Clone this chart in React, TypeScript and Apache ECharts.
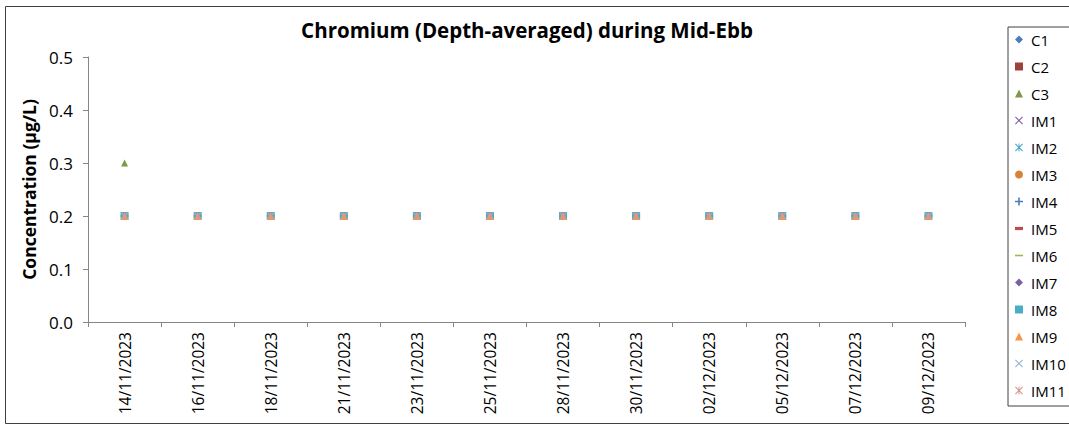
import React, { useEffect, useRef } from "react";
import * as echarts from "echarts";

const categories = [
  "14/11/2023", "16/11/2023", "18/11/2023", "21/11/2023", "23/11/2023", "25/11/2023",
  "28/11/2023", "30/11/2023", "02/12/2023", "05/12/2023", "07/12/2023", "09/12/2023",
];

const seriesNames = ["C1", "C2", "C3", "IM1", "IM2", "IM3", "IM4", "IM5", "IM6", "IM7", "IM8", "IM9", "IM10", "IM11"];

const C1 = [0.2, 0.2, 0.2, 0.2, 0.2, 0.2, 0.2, 0.2, 0.2, 0.2, 0.2, 0.2];
const C2 = [0.2, 0.2, 0.2, 0.2, 0.2, 0.2, 0.2, 0.2, 0.2, 0.2, 0.2, 0.2];
const C3 = [0.3, 0.2, 0.2, 0.2, 0.2, 0.2, 0.2, 0.2, 0.2, 0.2, 0.2, 0.2];
const IM1 = [0.2, 0.2, 0.2, 0.2, 0.2, 0.2, 0.2, 0.2, 0.2, 0.2, 0.2, 0.2];
const IM2 = [0.2, 0.2, 0.2, 0.2, 0.2, 0.2, 0.2, 0.2, 0.2, 0.2, 0.2, 0.2];
const IM3 = [0.2, 0.2, 0.2, 0.2, 0.2, 0.2, 0.2, 0.2, 0.2, 0.2, 0.2, 0.2];
const IM4 = [0.2, 0.2, 0.2, 0.2, 0.2, 0.2, 0.2, 0.2, 0.2, 0.2, 0.2, 0.2];
const IM5 = [0.2, 0.2, 0.2, 0.2, 0.2, 0.2, 0.2, 0.2, 0.2, 0.2, 0.2, 0.2];
const IM6 = [0.2, 0.2, 0.2, 0.2, 0.2, 0.2, 0.2, 0.2, 0.2, 0.2, 0.2, 0.2];
const IM7 = [0.2, 0.2, 0.2, 0.2, 0.2, 0.2, 0.2, 0.2, 0.2, 0.2, 0.2, 0.2];
const IM8 = [0.2, 0.2, 0.2, 0.2, 0.2, 0.2, 0.2, 0.2, 0.2, 0.2, 0.2, 0.2];
const IM9 = [0.2, 0.2, 0.2, 0.2, 0.2, 0.2, 0.2, 0.2, 0.2, 0.2, 0.2, 0.2];
const IM10 = [0.2, 0.2, 0.2, 0.2, 0.2, 0.2, 0.2, 0.2, 0.2, 0.2, 0.2, 0.2];
const IM11 = [0.2, 0.2, 0.2, 0.2, 0.2, 0.2, 0.2, 0.2, 0.2, 0.2, 0.2, 0.2];

const seriesValues = [C1, C2, C3, IM1, IM2, IM3, IM4, IM5, IM6, IM7, IM8, IM9, IM10, IM11];

const yTicks = [0, 0.1, 0.2, 0.3, 0.4, 0.5];

const PLUS = "path://M4,0H6V4H10V6H6V10H4V6H0V4H4Z";
const XMARK = "path://M1,0L5,4L9,0L10,1L6,5L10,9L9,10L5,6L1,10L0,9L4,5L0,1Z";
const STAR =
  "path://M1,0L5,4L9,0L10,1L6,5L10,9L9,10L5,6L1,10L0,9L4,5L0,1Z M4.4,0H5.6V10H4.4Z";
const SHORTDASH = "path://M0,0H10V4H0Z";
const LONGDASH = "path://M0,0H10V2H0Z";

const styles = [
  { color: "#4A7EBB", symbol: "diamond", size: [6, 7] },
  { color: "#A0403D", symbol: "rect", size: 7 },
  { color: "#7E9A48", symbol: "triangle", size: 7 },
  { color: "#7D60A0", symbol: XMARK, size: 7 },
  { color: "#46AAC5", symbol: STAR, size: 7 },
  { color: "#DA8138", symbol: "circle", size: 7 },
  { color: "#4A7EBB", symbol: PLUS, size: 7 },
  { color: "#BE4B48", symbol: SHORTDASH, size: [5, 3] },
  { color: "#98B954", symbol: LONGDASH, size: [8, 2] },
  { color: "#7D60A0", symbol: "diamond", size: [7, 8] },
  { color: "#4BACC6", symbol: "rect", size: 8 },
  { color: "#F79646", symbol: "triangle", size: 8 },
  { color: "#95B3D7", symbol: XMARK, size: 7 },
  { color: "#D99694", symbol: STAR, size: 7 },
];

const FONT = "Open Sans";

export default function App() {
  const ref = useRef<HTMLDivElement>(null);
  useEffect(() => {
    if (!ref.current) return;
    const chart = echarts.init(ref.current, undefined, { renderer: "svg" });
    const option: any = {
      animation: false,
      backgroundColor: "#ffffff",
      textStyle: { fontFamily: FONT },
      title: {
        text: "Chromium (Depth-averaged) during Mid-Ebb",
        left: 522,
        textAlign: "center",
        top: 14,
        textStyle: { fontFamily: FONT, fontSize: 20.5, fontWeight: "bold", color: "#000" },
      },
      graphic: [
        {
          type: "rect",
          shape: { x: 5.5, y: 6.5, width: 1100, height: 417 },
          style: { fill: "none", stroke: "#404040", lineWidth: 1 },
          silent: true,
          z: -1,
        },
      ],
      legend: {
        orient: "vertical",
        left: 1008,
        top: 27,
        padding: [5, 20, 8, 7],
        itemWidth: 8,
        itemHeight: 8,
        itemGap: 12,
        borderColor: "#404040",
        borderWidth: 1,
        textStyle: { fontFamily: FONT, fontSize: 15, color: "#000", lineHeight: 14, padding: [0, 0, 0, 3] },
        data: seriesNames,
      },
      grid: { left: 88, right: 104, top: 57, bottom: 103, containLabel: false },
      xAxis: {
        type: "category",
        data: categories,
        boundaryGap: true,
        axisLine: { lineStyle: { color: "#868686" } },
        axisTick: { show: true, length: 5, lineStyle: { color: "#868686" } },
        axisLabel: { rotate: 90, fontFamily: FONT, fontSize: 15.5, color: "#000", margin: 10, interval: 0 },
        splitLine: { show: false },
      },
      yAxis: {
        type: "value",
        min: 0,
        max: 0.5,
        interval: 0.1,
        name: "Concentration (µg/L)",
        nameLocation: "middle",
        nameGap: 46,
        nameRotate: 90,
        nameTextStyle: { fontFamily: FONT, fontSize: 17.5, fontWeight: "bold", color: "#000" },
        axisLine: { show: true, lineStyle: { color: "#868686" } },
        axisTick: { show: true, length: 5, lineStyle: { color: "#868686" } },
        axisLabel: {
          fontFamily: FONT,
          fontSize: 17,
          color: "#000",
          margin: 15,
          formatter: (v: number) => (yTicks.some((t) => Math.abs(t - v) < 1e-9) ? v.toFixed(1) : ""),
        },
        splitLine: { show: false },
      },
      series: seriesNames.map((name, i) => ({
        name,
        type: "scatter",
        data: seriesValues[i],
        symbol: styles[i].symbol,
        symbolSize: styles[i].size,
        itemStyle: { color: styles[i].color, opacity: 1 },
        emphasis: { disabled: true },
      })),
    };
    chart.setOption(option);
    return () => chart.dispose();
  }, []);
  return (
    <div
      ref={ref}
      style={{ position: "fixed", left: 0, top: 0, width: 1069, height: 425, background: "#fff" }}
    />
  );
}
